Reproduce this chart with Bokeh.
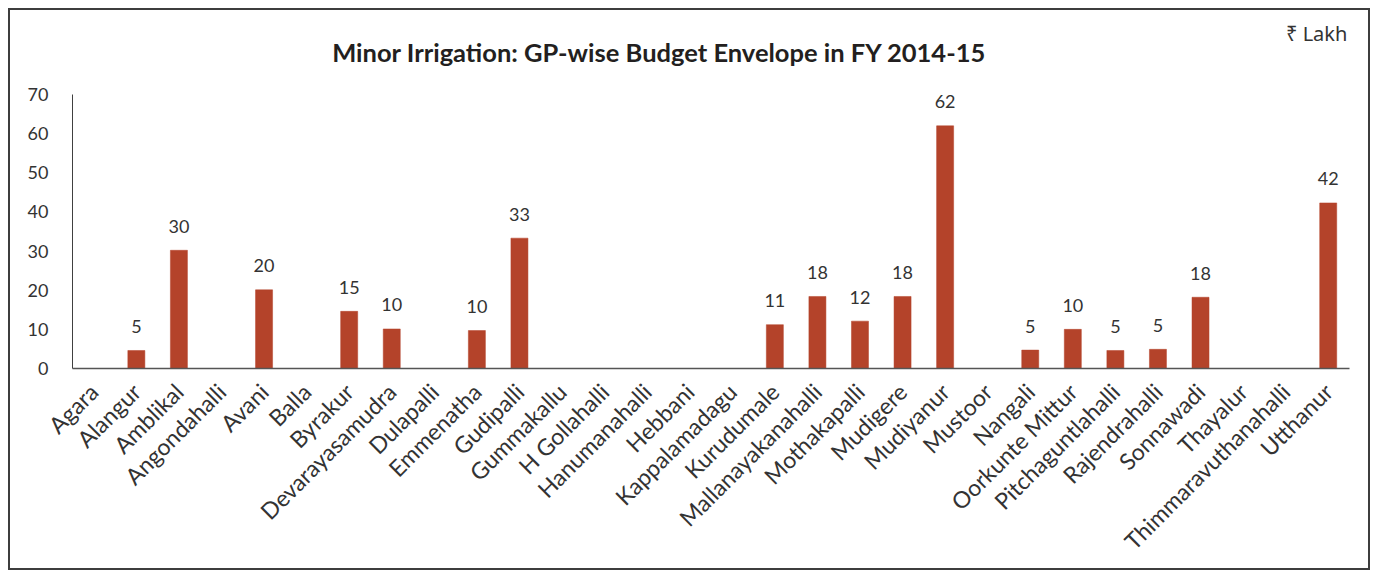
import math
from bokeh.plotting import figure
from bokeh.models import FixedTicker, Label, FactorRange, Range1d, ColumnDataSource
from bokeh.core.properties import value
from bokeh.embed import file_html
from bokeh.resources import INLINE

categories = [
    "Agara", "Alangur", "Amblikal", "Angondahalli", "Avani", "Balla", "Byrakur",
    "Devarayasamudra", "Dulapalli", "Emmenatha", "Gudipalli", "Gummakallu",
    "H Gollahalli", "Hanumanahalli", "Hebbani", "Kappalamadagu", "Kurudumale",
    "Mallanayakanahalli", "Mothakapalli", "Mudigere", "Mudiyanur", "Mustoor",
    "Nangali", "Oorkunte Mittur", "Pitchaguntlahalli", "Rajendrahalli",
    "Sonnawadi", "Thayalur", "Thimmaravuthanahalli", "Utthanur",
]
budget = [
    0, 4.6, 30.2, 0, 20.1, 0, 14.6,
    10.1, 0, 9.7, 33.3, 0,
    0, 0, 0, 0, 11.2,
    18.4, 12.1, 18.4, 62.0, 0,
    4.7, 10.0, 4.6, 4.9,
    18.2, 0, 0, 42.3,
]
y_ticks = [0, 10, 20, 30, 40, 50, 60, 70]
title_text = "Minor Irrigation: GP-wise Budget Envelope in FY 2014-15"
unit_text = "\u20b9 Lakh"

bar_color = "#b4432a"
text_color = "#333333"

# layout (page pixels): canvas starts at (10,10) inside an 8px margin + 2px border
Y_MAX = 70
frame_top, axis_top, axis_bottom = 14, 94, 368
y_top = Y_MAX * (axis_bottom - frame_top) / (axis_bottom - axis_top)

p = figure(
    x_range=FactorRange(*categories),
    y_range=Range1d(0, y_top),
    width=1362, height=562,
    output_backend="svg", toolbar_location=None, title=None,
    min_border_left=62, min_border_right=23,
    min_border_top=frame_top - 10, min_border_bottom=(10 + 562) - axis_bottom,
)
p.outline_line_color = None
p.grid.visible = False
p.background_fill_color = "white"
p.border_fill_color = "white"
p.styles = {"margin": "8px 0 0 8px", "border": "2px solid #3d3d3d"}

src = ColumnDataSource(dict(cat=categories, val=budget))
p.vbar(x="cat", top="val", width=0.4, source=src,
       fill_color=bar_color, line_color=bar_color, line_width=0.5)

lab_cats = [c for c, v in zip(categories, budget) if v > 0]
lab_vals = [v for v in budget if v > 0]
lab_txt = [str(int(math.floor(v + 0.5))) for v in lab_vals]
p.text(x=lab_cats, y=lab_vals, text=lab_txt, text_align="center",
       text_baseline="alphabetic", y_offset=-24,
       text_font=value("Lato"), text_font_size="18px", text_color=text_color)

yax = p.yaxis[0]
yax.ticker = FixedTicker(ticks=y_ticks)
yax.bounds = (0, Y_MAX)
yax.major_tick_line_color = None
yax.minor_tick_line_color = None
yax.major_tick_out = 0
yax.major_tick_in = 0
yax.axis_line_color = "#404040"
yax.axis_line_width = 1
yax.major_label_standoff = 24
yax.major_label_text_font = "Lato"
yax.major_label_text_font_size = "18px"
yax.major_label_text_color = text_color

xax = p.xaxis[0]
xax.major_label_orientation = math.pi / 4
xax.major_tick_line_color = None
xax.major_tick_out = 0
xax.major_tick_in = 0
xax.axis_line_color = "#555555"
xax.axis_line_width = 1.5
xax.major_label_standoff = 19
xax.major_label_text_font = "Lato"
xax.major_label_text_font_size = "23px"
xax.major_label_text_color = text_color

p.add_layout(Label(x=13.79, y=80.73, text=title_text, text_align="center",
                   text_baseline="middle", text_font="Lato", text_font_style="bold",
                   text_font_size="25.5px", text_color="#231f20"))
p.add_layout(Label(x=29.95, y=85.58, text=unit_text, text_align="right",
                   text_baseline="middle", text_font="Noto Sans",
                   text_font_size="20px", text_color=text_color))

open("out.html", "w").write(file_html(p, INLINE))
